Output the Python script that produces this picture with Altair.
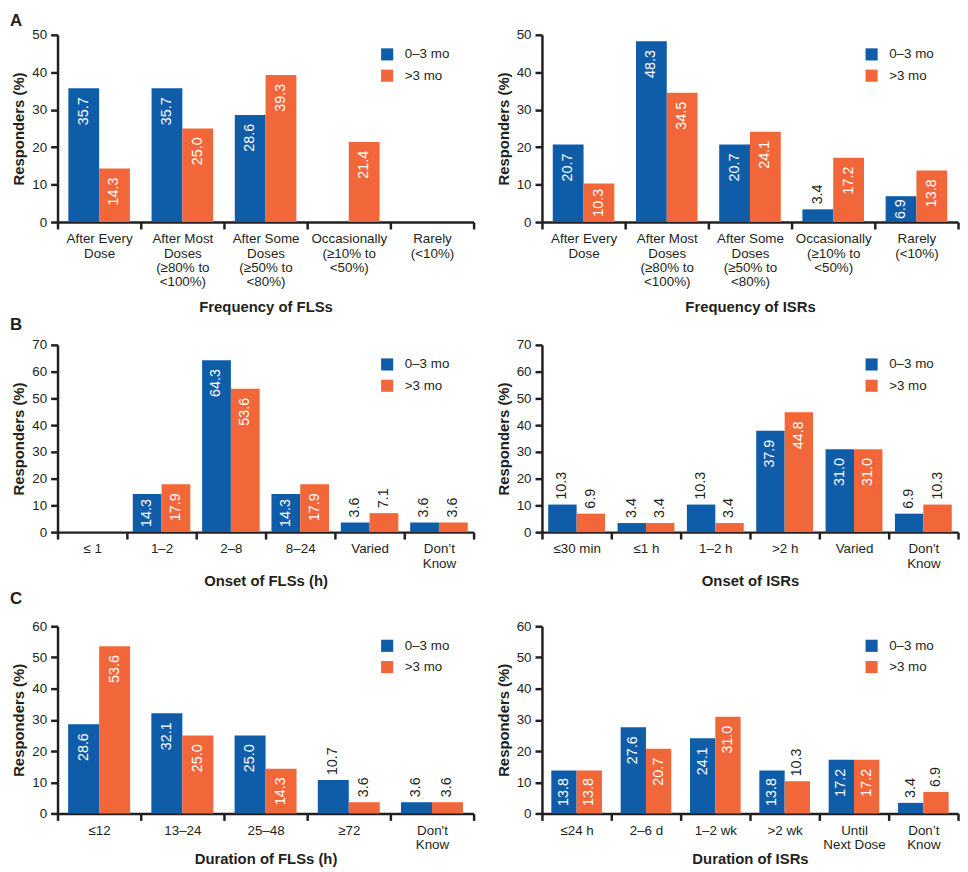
import altair as alt
import pandas as pd

PERIODS = ["0–3 mo", ">3 mo"]
BLUE = "#0f5ca8"
ORANGE = "#f2673a"
INK = "#231f20"
FONT = "Liberation Sans"

# ---- Panel A (left): Frequency of FLSs
freq_fls_cats = ["After Every|Dose", "After Most|Doses|(≥80% to|<100%)",
                 "After Some|Doses|(≥50% to|<80%)", "Occasionally|(≥10% to|<50%)",
                 "Rarely|(<10%)"]
freq_fls_early = [35.7, 35.7, 28.6, None, None]
freq_fls_late = [14.3, 25.0, 39.3, 21.4, None]

# ---- Panel A (right): Frequency of ISRs
freq_isr_cats = freq_fls_cats
freq_isr_early = [20.7, 48.3, 20.7, 3.4, 6.9]
freq_isr_late = [10.3, 34.5, 24.1, 17.2, 13.8]

# ---- Panel B (left): Onset of FLSs (h)
onset_fls_cats = ["≤ 1", "1–2", "2–8", "8–24", "Varied", "Don’t|Know"]
onset_fls_early = [None, 14.3, 64.3, 14.3, 3.6, 3.6]
onset_fls_late = [None, 17.9, 53.6, 17.9, 7.1, 3.6]

# ---- Panel B (right): Onset of ISRs
onset_isr_cats = ["≤30 min", "≤1 h", "1–2 h", ">2 h", "Varied", "Don't|Know"]
onset_isr_early = [10.3, 3.4, 10.3, 37.9, 31.0, 6.9]
onset_isr_late = [6.9, 3.4, 3.4, 44.8, 31.0, 10.3]

# ---- Panel C (left): Duration of FLSs (h)
dur_fls_cats = ["≤12", "13–24", "25–48", "≥72", "Don't|Know"]
dur_fls_early = [28.6, 32.1, 25.0, 10.7, 3.6]
dur_fls_late = [53.6, 25.0, 14.3, 3.6, 3.6]

# ---- Panel C (right): Duration of ISRs
dur_isr_cats = ["≤24 h", "2–6 d", "1–2 wk", ">2 wk", "Until|Next Dose", "Don’t|Know"]
dur_isr_early = [13.8, 27.6, 24.1, 13.8, 17.2, 3.4]
dur_isr_late = [13.8, 20.7, 31.0, 10.3, 17.2, 6.9]

AXIS_STYLE = dict(
    labelFont=FONT, labelFontSize=13.5, labelColor=INK,
    titleFont=FONT, titleFontSize=15, titleFontWeight="bold", titleColor=INK,
    domainColor=INK, domainWidth=2.5, tickColor=INK, tickWidth=2.5, tickSize=7,
    grid=False,
)


def panel(cats, early, late, ymax, xtitle, group_frac, title_pad,
          letter=None, letter_offset=9):
    W, H = 420, 189
    rows = []
    for c, e, l in zip(cats, early, late):
        for p, v in ((PERIODS[0], e), (PERIODS[1], l)):
            if v is None:
                continue
            rows.append({"cat": c, "period": p, "value": v, "label": f"{v:.1f}"})
    df = pd.DataFrame(rows)
    px = df["value"] / ymax * H
    tl = df["label"].apply(lambda s: sum(4.0 if ch == "." else 8.1 for ch in s))
    # where the label goes: top of bar, centred in bar, or above bar
    df["pos"] = "out"
    df.loc[px >= 1.2 * tl, "pos"] = "mid"
    df.loc[px >= tl + 18, "pos"] = "top"

    po = 1.0 / group_frac - 1.0
    yscale = alt.Scale(domain=[0, ymax], nice=False)
    yaxis = alt.Axis(title="Responders (%)", values=list(range(0, ymax + 1, 10)),
                     labelPadding=4, titlePadding=5, **AXIS_STYLE)
    base = alt.Chart(df).encode(
        x=alt.X("cat:N",
                scale=alt.Scale(domain=cats, paddingInner=0, paddingOuter=0),
                axis=alt.Axis(title=xtitle, tickBand="extent", labelAngle=0,
                              labelExpr="split(datum.label, '|')",
                              labelPadding=3, labelLineHeight=14.3,
                              titlePadding=title_pad, labelBaseline="top",
                              **AXIS_STYLE)),
        xOffset=alt.XOffset("period:N",
                            scale=alt.Scale(domain=PERIODS, paddingInner=0,
                                            paddingOuter=po)),
        y=alt.Y("value:Q", scale=yscale, axis=yaxis),
    )
    bars = base.mark_bar().encode(
        color=alt.Color("period:N",
                        scale=alt.Scale(domain=PERIODS, range=[BLUE, ORANGE]),
                        legend=alt.Legend(title=None, orient="none", legendX=326,
                                          legendY=13, direction="vertical",
                                          symbolType="square", symbolSize=150,
                                          symbolStrokeWidth=0,
                                          labelFont=FONT, labelFontSize=13.5,
                                          labelColor=INK, labelOffset=11,
                                          rowPadding=6.5, padding=0))
    )
    top = base.transform_filter("datum.pos == 'top'").mark_text(
        angle=270, align="right", baseline="middle", dx=-9, color="white",
        font=FONT, fontSize=14.5).encode(text="label:N")
    mid = base.transform_filter("datum.pos == 'mid'").transform_calculate(
        half="datum.value / 2").mark_text(
        angle=270, align="center", baseline="middle", color="white",
        font=FONT, fontSize=14.5).encode(
        y=alt.Y("half:Q", scale=yscale, axis=yaxis), text="label:N")
    out = base.transform_filter("datum.pos == 'out'").mark_text(
        angle=270, align="left", baseline="middle", dx=5, color=INK,
        font=FONT, fontSize=14.5).encode(text="label:N")
    props = dict(width=W, height=H)
    if letter:
        props["title"] = alt.TitleParams(text=letter, anchor="start", frame="group",
                                         dx=-48, offset=letter_offset, fontSize=17,
                                         font=FONT, fontWeight="bold", color=INK)
    return alt.layer(bars, top, mid, out).properties(**props)


def row(a, b):
    return alt.hconcat(a, b, spacing=20).resolve_scale(
        x="independent", y="independent", color="independent", xOffset="independent")


rowA = row(
    panel(freq_fls_cats, freq_fls_early, freq_fls_late, 50, "Frequency of FLSs",
          0.74, 12, "A", -2),
    panel(freq_isr_cats, freq_isr_early, freq_isr_late, 50, "Frequency of ISRs",
          0.74, 12),
)
rowB = row(
    panel(onset_fls_cats, onset_fls_early, onset_fls_late, 70, "Onset of FLSs (h)",
          0.83, 4.5, "B", 4),
    panel(onset_isr_cats, onset_isr_early, onset_isr_late, 70, "Onset of ISRs",
          0.82, 4.5),
)
rowC = row(
    panel(dur_fls_cats, dur_fls_early, dur_fls_late, 60, "Duration of FLSs (h)",
          0.745, 1, "C", 11),
    panel(dur_isr_cats, dur_isr_early, dur_isr_late, 60, "Duration of ISRs",
          0.73, 1),
)

chart = alt.vconcat(rowA, rowB, rowC, spacing=1).resolve_scale(
    x="independent", y="independent", color="independent", xOffset="independent"
).properties(
    padding={"left": 2, "top": 0, "right": 0, "bottom": 0}
).configure_view(stroke=None).configure_axis(**AXIS_STYLE)

chart.save("out.html", embed_options={"renderer": "svg", "actions": False})
